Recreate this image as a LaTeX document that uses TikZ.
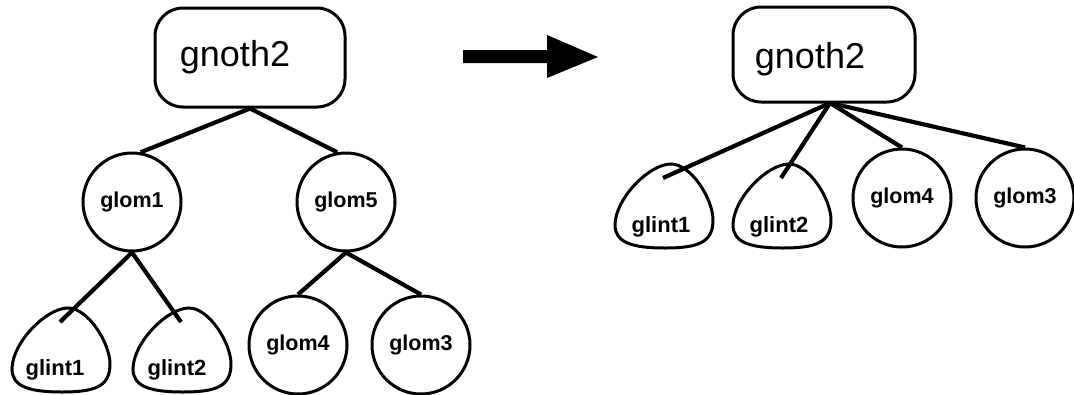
\documentclass[tikz,border=0pt]{standalone}
\usepackage{fontspec}
\setmainfont{Liberation Sans}
\begin{document}
\begin{tikzpicture}[x=1pt,y=-1pt,
  box/.style={draw, line width=3pt, rounded corners=28pt, minimum width=190pt, minimum height=99pt, inner sep=0pt},
  big/.style={font=\fontsize{36}{40}\selectfont, inner sep=0pt},
  circ/.style={draw, circle, line width=3pt, minimum size=98pt, inner sep=0pt, font=\bfseries\fontsize{21.5}{26}\selectfont},
  lab/.style={font=\bfseries\fontsize{22}{26}\selectfont, inner sep=0pt},
  edge/.style={line width=4.2pt},
  drop/.style={line width=3pt},
  pics/dropshape/.style={code={
    \draw[drop] (56,1) .. controls (76,1) and (98,36) .. (98,57)
      .. controls (98,79) and (84,85) .. (50,85)
      .. controls (16,85) and (0,79) .. (0,62)
      .. controls (0,36) and (34,1) .. (56,1) -- cycle;
    \coordinate (-top) at (48,15);
  }}]
\useasboundingbox (0,0) rectangle (1074,394);

% ---------- left tree ----------
\node[box] (lbox) at (250,57.5) {};
\node[big] (ltext) at (235,57) {gnoth2};
\node[circ] (lglom1) at (132,202) {\raisebox{-5pt}{glom1}};
\node[circ] (lglom5) at (346,202) {\raisebox{-5pt}{glom5}};
\node[circ] (lglom4) at (298,345) {\raisebox{-3pt}{glom4}};
\node[circ] (lglom3) at (421,345) {\raisebox{-3pt}{glom3}};
\pic (lg1) at (12,307) {dropshape};
\pic (lg2) at (133,307) {dropshape};
\node[lab] (lg1t) at (55,370) {glint1};
\node[lab] (lg2t) at (177,370) {glint2};

\draw[edge] (lbox.south) -- (lglom1.80);
\draw[edge] (lbox.south) -- (lglom5.100);
\draw[edge] (lglom1.south) -- (lg1-top);
\draw[edge] (lglom1.south) -- (lg2-top);
\draw[edge] (lglom5.south) -- (lglom4.north);
\draw[edge] (lglom5.south) -- (lglom3.north);

% ---------- arrow ----------
\fill (463,50) -- (547,50) -- (547,35) -- (598,57) -- (547,78) -- (547,63) -- (463,63) -- cycle;

% ---------- right tree ----------
\node[box, minimum width=182pt, minimum height=95pt] (rbox) at (824,54.5) {};
\node[big] (rtext) at (810,59) {gnoth2};
\coordinate (rjoin) at (830,103);
\pic (rg1) at (615,163) {dropshape};
\pic (rg2) at (733,163) {dropshape};
\node[lab] (rg1t) at (661,227) {glint1};
\node[lab] (rg2t) at (779,227) {glint2};
\node[circ] (rglom4) at (902,198) {\raisebox{-5pt}{glom4}};
\node[circ] (rglom3) at (1025,198) {\raisebox{-5pt}{glom3}};

\draw[edge] (rjoin) -- (rg1-top);
\draw[edge] (rjoin) -- (rg2-top);
\draw[edge] (rjoin) -- (rglom4.north);
\draw[edge] (rjoin) -- (rglom3.north);
\end{tikzpicture}
\end{document}
